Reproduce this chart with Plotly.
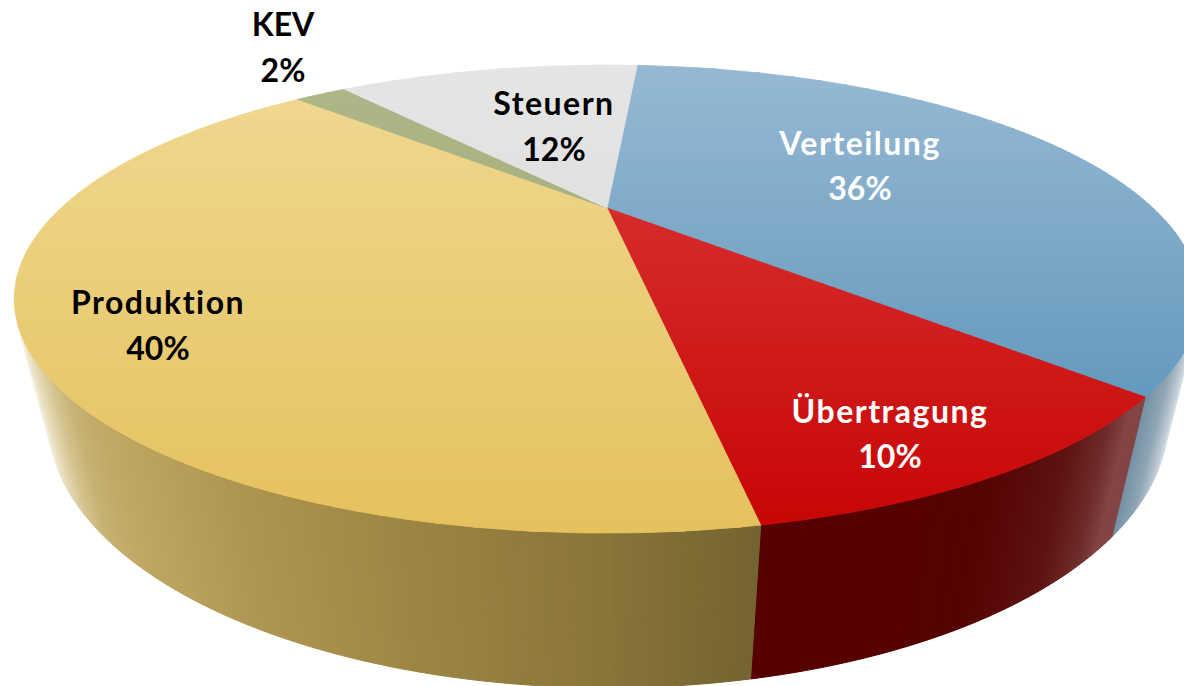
import math
import plotly.graph_objects as go

# ---- data ----
categories = ["Verteilung", "Übertragung", "Produktion", "KEV", "Steuern"]
shares = [36, 10, 40, 2, 12]
label_colors = ["white", "white", "black", "black", "black"]

# ---- styles (not data) ----
start_angle = 4.4
top_grad = {  # (y, colour) stops of the top face, per slice
    "Verteilung": [(65, "#97B9D3"), (395, "#659ABE")],
    "Übertragung": [(208, "#D62C2C"), (525, "#C80606")],
    "Produktion": [(100, "#F0D78F"), (528, "#E5C25E")],
    "KEV": [(90, "#ADB687"), (190, "#A9B381")],
    "Steuern": [(65, "#E5E5E5"), (208, "#E1E1E1")],
}
wall_grad = {  # (x, colour) stops of the side wall, per slice
    "Verteilung": [(1105, "#4F7F9B"), (1125, "#6F8FA3"), (1150, "#8FA5B4"), (1172, "#C8D3DA"), (1186, "#F4F6F7")],
    "Übertragung": [(746, "#560000"), (970, "#550202"), (1050, "#5E1212"), (1090, "#6E2A2A"), (1112, "#824444"), (1140, "#824444")],
    "Produktion": [(30, "#FFFFFF"), (48, "#EBE1C3"), (70, "#D5C491"), (92, "#C6B172"), (130, "#BFA862"), (250, "#AE9650"), (420, "#9C8543"), (600, "#8A7539"), (755, "#736431")],
    "KEV": [(0, "#A9B381"), (1200, "#A9B381")],
    "Steuern": [(0, "#E1E1E1"), (1200, "#E1E1E1")],
}
# ---- label anchor pixels (name line, share line share the x) ----
label_pos = {
    "Verteilung": (860, 147, 192),
    "Übertragung": (890, 415, 460),
    "Produktion": (158, 306, 352),
    "KEV": (283, 28, 74),
    "Steuern": (554, 107, 153),
}

# ---- projection of the cylinder ----
CX, CY = 607.0, 208.0
A, B, K = 546.0, 198.6, 0.389
VX, VY, C = 625.0, 2578.0, 0.050


def project(deg, r=1.0, z=0.0):
    t = math.radians(deg)
    X, Y = r * math.sin(t), r * math.cos(t)
    w = 1 + K * Y
    xh = CX * w + A * X + VX * C * z
    yh = CY * w - B * Y + VY * C * z
    w += C * z
    return xh / w, yh / w


def rgb(h):
    return tuple(int(h[i:i + 2], 16) for i in (1, 3, 5))


def ramp(stops, v):
    if v <= stops[0][0]:
        return stops[0][1]
    for (a, ca), (b, cb) in zip(stops, stops[1:]):
        if v <= b:
            f = (v - a) / (b - a)
            p, q = rgb(ca), rgb(cb)
            return "#%02X%02X%02X" % tuple(round(p[i] + (q[i] - p[i]) * f) for i in range(3))
    return stops[-1][1]


def clip(poly, y0, keep_below):
    out = []
    n = len(poly)
    inside = (lambda p: p[1] >= y0) if keep_below else (lambda p: p[1] <= y0)
    for i in range(n):
        p, q = poly[i], poly[(i + 1) % n]
        if inside(p):
            out.append(p)
        if inside(p) != inside(q):
            f = (y0 - p[1]) / (q[1] - p[1])
            out.append((p[0] + (q[0] - p[0]) * f, y0))
    return out


def patch(fig, poly, colour, width=1.0):
    xs = [p[0] for p in poly] + [poly[0][0]]
    ys = [p[1] for p in poly] + [poly[0][1]]
    fig.add_trace(go.Scatter(x=xs, y=ys, mode="lines", fill="toself", fillcolor=colour,
                             line=dict(color=colour, width=width), hoverinfo="skip", showlegend=False))


fig = go.Figure()

# slice angle ranges from the shares
spans = []
a0 = start_angle
for cat, s in zip(categories, shares):
    spans.append((cat, a0, a0 + s * 3.6))
    a0 += s * 3.6

# side wall: strips painted far to near so the front ones stay on top
strips = []
for cat, a, b in spans:
    n = max(1, int((b - a) / 0.6))
    for i in range(n):
        d0 = a + (b - a) * i / n
        d1 = a + (b - a) * (i + 1) / n
        mid = (d0 + d1) / 2
        depth = math.cos(math.radians(mid))
        if depth > -0.3:
            continue
        strips.append((depth, cat, d0, d1, mid))
for depth, cat, d0, d1, mid in sorted(strips, key=lambda s: -s[0]):
    quad = [project(d0), project(d1), project(d1, z=1), project(d0, z=1)]
    patch(fig, quad, ramp(wall_grad[cat], project(mid, z=0.5)[0]), 1.0)

# top face as horizontal colour bands
BAND = 4
for cat, a, b in spans:
    n = max(3, int(b - a))
    poly = [(CX, CY)] + [project(a + (b - a) * i / n) for i in range(n + 1)]
    ys = [p[1] for p in poly]
    y = math.floor(min(ys))
    ymax = max(ys)
    while y < ymax:
        piece = clip(clip(poly, y, True), y + BAND, False)
        if len(piece) >= 3:
            patch(fig, piece, ramp(top_grad[cat], y + BAND / 2), 0.8)
        y += BAND

# labels
tx, ty, tt, tc = [], [], [], []
for cat, s, col in zip(categories, shares, label_colors):
    x, y1, y2 = label_pos[cat]
    tx += [x, x]
    ty += [y1, y2]
    tt += [cat, f"{s}%"]
    tc += [col, col]
fig.add_trace(go.Scatter(x=tx, y=ty, mode="text", text=tt, textposition="middle center",
                         textfont=dict(family="Lato", size=32, color=tc, weight="bold"),
                         hoverinfo="skip", showlegend=False, cliponaxis=False))

fig.update_layout(width=1184, height=686, margin=dict(l=0, r=0, t=0, b=0),
                  paper_bgcolor="white", plot_bgcolor="white",
                  xaxis=dict(range=[0, 1184], visible=False, fixedrange=True),
                  yaxis=dict(range=[686, 0], visible=False, fixedrange=True))
fig.write_html("out.html", config={"displayModeBar": False},
               post_script="document.body.style.margin='0';document.body.style.overflow='hidden';"
                           "document.querySelectorAll('.textpoint text').forEach(function(t){"
                           "var s=t.textContent;if(s.indexOf('%')<0&&s!=='KEV'){t.style.letterSpacing='1.5px';}});")
